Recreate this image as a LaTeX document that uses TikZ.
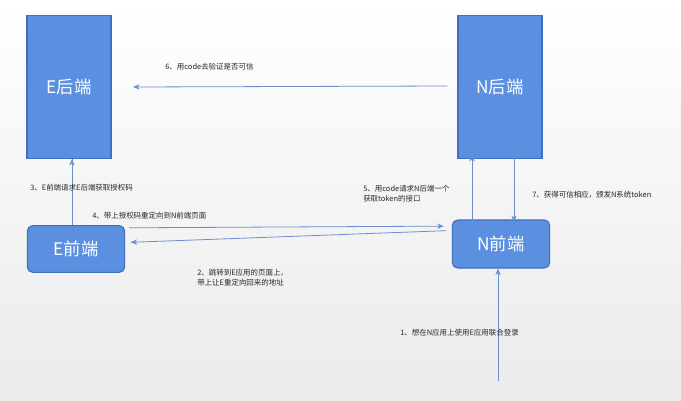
\documentclass[tikz,border=0pt]{standalone}
\usepackage{fontspec}
\setmainfont{Noto Sans CJK SC}
\usetikzlibrary{arrows.meta,shadings}
\definecolor{boxblue}{HTML}{5B8FDF}
\definecolor{boxedge}{HTML}{3F6FBF}
\definecolor{arr}{HTML}{6A8FCF}
\begin{document}
\begin{tikzpicture}[x=0.75pt,y=-0.75pt,
  box/.style={draw=boxedge,fill=boxblue,line width=0.8pt,text=white,font=\fontsize{13}{15}\selectfont,inner sep=0pt},
  conn/.style={draw=arr,line width=0.6pt,-{Stealth[length=5pt,width=4pt]}},
  lbl/.style={font=\fontsize{5.6}{7.5}\selectfont,text=black!85,align=left,inner sep=0pt}]
\useasboundingbox (0,0) rectangle (681,400);
\shade[top color=white,bottom color=black!8] (0,0) rectangle (681,400);
\node[box,minimum width=84\pgflinewidth,minimum width=63pt,minimum height=107pt] (EB) at (69,87) {E后端};
\node[box,minimum width=63pt,minimum height=107pt] (NB) at (500,87) {N后端};
\node[box,rounded corners=4pt,minimum width=73pt,minimum height=35pt] (EF) at (76,249) {E前端};
\node[box,rounded corners=4pt,minimum width=73pt,minimum height=36pt] (NF) at (501,244) {N前端};
\coordinate (S) at (498,381);
\draw[conn] ([yshift=0.75pt]NB.west) ++(-10,0) coordinate (a6) -- (EB.east -| 133,0 |- EB.east) coordinate(b6);
\draw[conn] (EF.north -| 72,0) -- (EB.south -| 72,0) ++(0,0);
\draw[conn] ([xshift=3pt,yshift=-2pt]EF.north east) -- ([xshift=-6pt,yshift=-5pt]NF.north west);
\draw[conn] ([xshift=-4pt,yshift=10pt]NF.west) -- ([xshift=4pt,yshift=5pt]EF.east);
\draw[conn] ([yshift=-1pt]NF.north -| 472,0) -- ([yshift=3pt]NB.south -| 472,0);
\draw[conn] ([yshift=3pt]NB.south -| 514,0) -- ([yshift=-2pt]NF.north -| 514,0);
\draw[conn] (S) -- (NF.south -| S);
\node[lbl,anchor=west] (l6) at (165,67) {6、用code去验证是否可信};
\node[lbl,anchor=west] (l3) at (30,188) {3、E前端请求E后端获取授权码};
\node[lbl,anchor=west] (l4) at (92,216) {4、带上授权码重定向到N前端页面};
\node[lbl,anchor=west] (l2) at (197,278) {2、跳转到E应用的页面上，\\带上让E重定向回来的地址};
\node[lbl,anchor=west] (l5) at (363,194) {5、用code请求N后端一个\\获取token的接口};
\node[lbl,anchor=west] (l7) at (532,195) {7、获得可信相应，颁发N系统token};
\node[lbl,anchor=west] (l1) at (400,333) {1、想在N应用上使用E应用联合登录};
\end{tikzpicture}
\end{document}
